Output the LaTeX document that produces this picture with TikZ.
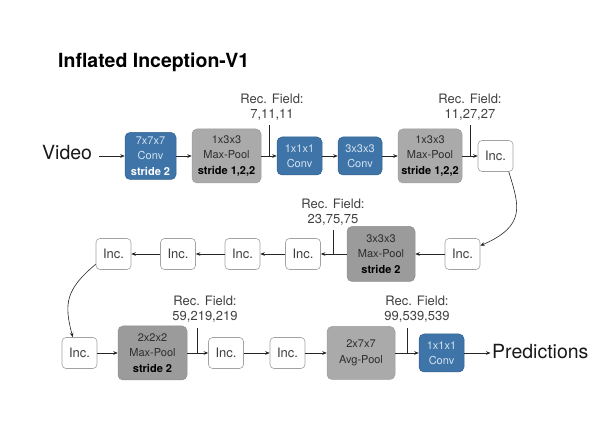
\documentclass[tikz,border=0pt]{standalone}
\usepackage{fontspec}
\setmainfont{TeX Gyre Heros}
\usetikzlibrary{arrows.meta,calc}
\definecolor{convblue}{HTML}{3E74A8}
\definecolor{convedge}{HTML}{30628F}
\definecolor{convtext}{HTML}{D3E2F0}
\definecolor{poolgray}{HTML}{AAAAAA}
\definecolor{pooledge}{HTML}{9C9C9C}
\definecolor{pooldark}{HTML}{9B9B9B}
\definecolor{pooldarkedge}{HTML}{8E8E8E}
\definecolor{pooltext}{HTML}{2E2E2E}
\definecolor{incedge}{HTML}{A2A2A2}
\definecolor{softtext}{HTML}{404040}
\begin{document}
\begin{tikzpicture}[x=1pt,y=1pt,
  box/.style={rounded corners=5pt, inner sep=0pt, align=center, line width=0.5pt,
    font=\fontsize{11}{15.5}\selectfont},
  convbox/.style={box, fill=convblue, draw=convedge, text=convtext,
    minimum width=45, minimum height=38},
  poolbox/.style={box, fill=poolgray, draw=pooledge, text=pooltext,
    minimum width=69, minimum height=54},
  darkpool/.style={poolbox, fill=pooldark, draw=pooldarkedge},
  incbox/.style={rounded corners=4pt, draw=incedge, fill=white, text=softtext,
    line width=0.6pt, inner sep=0pt, minimum width=35, minimum height=31,
    font=\fontsize{13}{15}\selectfont},
  conn/.style={-{Stealth[length=4.5pt,width=3.6pt]}, line width=0.6pt, draw=black!85},
  rec/.style={align=center, font=\fontsize{13}{15}\selectfont, text=softtext, inner sep=2pt},
  big/.style={font=\fontsize{19.5}{22}\selectfont, text=black!90}
]
\useasboundingbox (0,0) rectangle (615,444);

% title
\node[anchor=base west, inner sep=0pt, font=\fontsize{19.5}{22}\selectfont\bfseries] (title) at (58,376) {Inflated Inception-V1};

% row 1
\node[big, anchor=base west, inner sep=7pt] (video) at (35,284) {Video};
\node[convbox, minimum width=51, minimum height=47] (conv1) at (150.5,288) {7x7x7\\Conv\\\textbf{\color{white}stride 2}};
\node[poolbox] (pool1) at (226.5,288) {1x3x3\\Max-Pool\\\textbf{\color{black}stride 1,2,2}};
\node[convbox] (conv2) at (299.5,288) {1x1x1\\Conv};
\node[convbox, minimum width=44] (conv3) at (360,288) {3x3x3\\Conv};
\node[poolbox, minimum width=64] (pool2) at (430,288) {1x3x3\\Max-Pool\\\textbf{\color{black}stride 1,2,2}};
\node[incbox] (inc1) at (495.5,288) {Inc.};

% row 2
\node[incbox] (incR) at (462.5,190) {Inc.};
\node[darkpool, minimum width=68, minimum height=55] (pool3) at (381,190) {3x3x3\\Max-Pool\\\textbf{\color{black}stride 2}};
\node[incbox] (incA) at (303,190) {Inc.};
\node[incbox] (incB) at (242.5,190) {Inc.};
\node[incbox] (incC) at (178,190) {Inc.};
\node[incbox] (incD) at (113.5,190) {Inc.};

% row 3
\node[incbox] (incE) at (79.5,91) {Inc.};
\node[darkpool] (pool4) at (152.5,91) {2x2x2\\Max-Pool\\\textbf{\color{black}stride 2}};
\node[incbox] (incF) at (226,91) {Inc.};
\node[incbox] (incG) at (287.5,91) {Inc.};
\node[poolbox, minimum width=68, minimum height=53] (avg) at (361,91) {2x7x7\\Avg-Pool};
\node[convbox] (conv4) at (441.5,91) {1x1x1\\Conv};
\node[big, anchor=base west, inner sep=1.5pt] (pred) at (490.5,85) {Predictions};

% receptive field labels
\node[rec] (rec1) at (272,337) {Rec. Field:\\7,11,11};
\node[rec] (rec2) at (470,337) {Rec. Field:\\11,27,27};
\node[rec] (rec3) at (333,232) {Rec. Field:\\23,75,75};
\node[rec] (rec4) at (205,134.5) {Rec. Field:\\59,219,219};
\node[rec] (rec5) at (417,134.5) {Rec. Field:\\99,539,539};

% connectors row 1
\draw[conn] (video.east |- conv1.west) -- (conv1.west);
\draw[conn] (conv1.east) -- (pool1.west);
\draw[conn] (pool1.east) -- (conv2.west);
\draw[conn] (conv2.east) -- (conv3.west);
\draw[conn] (conv3.east) -- (pool2.west);
\draw[conn] (pool2.east) -- (inc1.west);

% row 1 -> row 2
\draw[conn] (inc1.-50) .. controls +(10.5,-34) and +(46,20) .. (incR.25);

% row 2
\draw[conn] (incR.west) -- (pool3.east);
\draw[conn] (pool3.west) -- (incA.east);
\draw[conn] (incA.west) -- (incB.east);
\draw[conn] (incB.west) -- (incC.east);
\draw[conn] (incC.west) -- (incD.east);

% row 2 -> row 3
\draw[conn] (incD.210) .. controls +(-30,-25) and +(-9,33.5) .. (incE.113);

% row 3
\draw[conn] (incE.east) -- (pool4.west);
\draw[conn] (pool4.east) -- (incF.west);
\draw[conn] (incF.east) -- (incG.west);
\draw[conn] (incG.east) -- (avg.west);
\draw[conn] (avg.east) -- (conv4.west);
\draw[conn] (conv4.east) -- (pred.west |- conv4.east);

% receptive field ticks
\coordinate (m1) at ($(pool1.east)!0.5!(conv2.west)$);
\coordinate (m2) at ($(pool2.east)!0.5!(inc1.west)$);
\coordinate (m3) at ($(pool3.west)!0.5!(incA.east)$);
\coordinate (m4) at ($(pool4.east)!0.5!(incF.west)$);
\coordinate (m5) at ($(avg.east)!0.5!(conv4.west)$);
\draw[line width=0.6pt, draw=black!85] (m1) -- ($(m1 |- rec1.south)+(0,-3)$);
\draw[line width=0.6pt, draw=black!85] (m2) -- ($(m2 |- rec2.south)+(0,-3)$);
\draw[line width=0.6pt, draw=black!85] (m3) -- ($(m3 |- rec3.south)+(0,-3)$);
\draw[line width=0.6pt, draw=black!85] (m4) -- ($(m4 |- rec4.south)+(0,-3)$);
\draw[line width=0.6pt, draw=black!85] (m5) -- ($(m5 |- rec5.south)+(0,-3)$);
\end{tikzpicture}
\end{document}
